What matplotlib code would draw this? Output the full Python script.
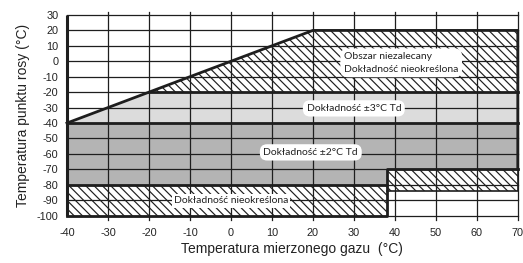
import matplotlib
matplotlib.use("Agg")
import matplotlib.pyplot as plt
from matplotlib.patches import Polygon

plt.rcParams['font.family'] = ['Liberation Sans', 'DejaVu Sans']
plt.rcParams['hatch.linewidth'] = 0.85

# ---- data ----
x_ticks = [-40, -30, -20, -10, 0, 10, 20, 30, 40, 50, 60, 70]
y_ticks = [30, 20, 10, 0, -10, -20, -30, -40, -50, -60, -70, -80, -90, -100]
x_min, x_max = -40, 70
y_min, y_max = -100, 30

# region boundaries (°C)
diag_x = [-40, 20]          # line Td = T
diag_y = [-40, 20]
cap_td = 20                 # upper limit of dew point
upper_td = -20              # limit of ±3°C accuracy zone
mid_td = -40                # limit between ±3 and ±2
low_td_left = -80           # lower limit of ±2 for T < step
low_td_right = -70          # lower limit of ±2 for T > step
step_t = 38                 # gas temperature step
right_hatch_low = -84

labels = ["Obszar niezalecany\nDokładność nieokreślona",
          "Dokładność ±3°C Td",
          "Dokładność ±2°C Td",
          "Dokładność nieokreślona"]
label_pos = [(27.6, -1), (30, -30.5), (19.5, -59), (0, -90.5)]

light = '#dcdcdc'
dark = '#b4b4b4'
lc = '#1e1e1e'
tc = '#222222'
lab_font = ['Lato', 'DejaVu Sans']

fig = plt.figure(figsize=(5.23, 2.63), dpi=100)
ax = fig.add_axes([0.128, 0.180, 0.862, 0.763])
ax.set_xlim(x_min, x_max)
ax.set_ylim(y_min, y_max)

hatch = '\\\\\\\\'
# light gray (±3)
ax.add_patch(Polygon([(diag_x[0], mid_td), (upper_td, upper_td), (x_max, upper_td), (x_max, mid_td)],
                     closed=True, fc=light, ec='none', zorder=1))
# upper hatched region
ax.add_patch(Polygon([(upper_td, upper_td), (cap_td, cap_td), (x_max, cap_td), (x_max, upper_td)],
                     closed=True, fc='white', ec=lc, lw=0, hatch=hatch, zorder=1))
# dark gray (±2)
ax.add_patch(Polygon([(x_min, mid_td), (x_max, mid_td), (x_max, low_td_right), (step_t, low_td_right),
                      (step_t, low_td_left), (x_min, low_td_left)],
                     closed=True, fc=dark, ec='none', zorder=1))
# lower-left hatched
ax.add_patch(Polygon([(x_min, low_td_left), (step_t, low_td_left), (step_t, y_min), (x_min, y_min)],
                     closed=True, fc='white', ec=lc, lw=0, hatch=hatch, zorder=1))
# right hatched strip
ax.add_patch(Polygon([(step_t, low_td_right), (x_max, low_td_right), (x_max, right_hatch_low), (step_t, right_hatch_low)],
                     closed=True, fc='white', ec=lc, lw=0, hatch=hatch, zorder=1))

# grid lines
for xv in x_ticks[1:]:
    ax.plot([xv, xv], [y_min - 2.5, y_max + 2.0], color=lc, lw=0.9, zorder=2, clip_on=False)
for yv in y_ticks:
    ax.plot([x_min, x_max], [yv, yv], color=lc, lw=0.9, zorder=2, clip_on=False)

# thick outlines
tk = 2.0
ax.plot([x_min, x_min], [y_min, y_max], color=lc, lw=2.2, zorder=3, clip_on=False, solid_capstyle='butt')
ax.plot([diag_x[0], diag_x[1], x_max, x_max], [diag_y[0], diag_y[1], cap_td, low_td_right],
        color=lc, lw=tk, zorder=3, clip_on=False)
ax.plot([upper_td, x_max], [upper_td, upper_td], color=lc, lw=tk, zorder=3, clip_on=False)
ax.plot([x_min, x_max], [mid_td, mid_td], color=lc, lw=tk, zorder=3, clip_on=False)
ax.plot([x_min, step_t, step_t, x_max], [low_td_left, low_td_left, low_td_right, low_td_right],
        color=lc, lw=tk, zorder=3, clip_on=False)
ax.plot([x_min, step_t, step_t], [y_min, y_min, low_td_left], color=lc, lw=tk, zorder=3, clip_on=False)
ax.plot([step_t, x_max, x_max], [right_hatch_low, right_hatch_low, low_td_right], color=lc, lw=1.2, zorder=3, clip_on=False)

# labels
box_round = dict(boxstyle='round,pad=0.35,rounding_size=0.7', fc='white', ec='none')
ax.text(label_pos[0][0], label_pos[0][1], labels[0], fontsize=7.5, family=lab_font,
        ha='left', va='center', linespacing=1.5, bbox=box_round, zorder=5, color=tc)
ax.text(label_pos[1][0], label_pos[1][1], labels[1], fontsize=7.5, family=lab_font,
        ha='center', va='center', bbox=box_round, zorder=5, color=tc)
ax.text(label_pos[2][0], label_pos[2][1], labels[2], fontsize=7.5, family=lab_font,
        ha='center', va='center', bbox=box_round, zorder=5, color=tc)
ax.text(label_pos[3][0], label_pos[3][1], labels[3], fontsize=7.5, family=lab_font,
        ha='center', va='center', bbox=dict(boxstyle='square,pad=0.2', fc='white', ec='none'),
        zorder=5, color=tc)

for s in ax.spines.values():
    s.set_visible(False)
ax.set_xticks(x_ticks)
ax.set_yticks(y_ticks)
ax.set_xticklabels([str(v) for v in x_ticks], fontsize=7.8, color=tc)
ax.set_yticklabels([str(v) for v in y_ticks], fontsize=7.8, color=tc)
ax.tick_params(axis='both', length=0)
ax.tick_params(axis='y', pad=6)
ax.tick_params(axis='x', pad=9)
ax.set_xlabel('Temperatura mierzonego gazu  (°C)', fontsize=10, color=tc, labelpad=3)
ax.set_ylabel('Temperatura punktu rosy (°C)', fontsize=10, color=tc, labelpad=5)

fig.savefig('out.png', dpi=100)
